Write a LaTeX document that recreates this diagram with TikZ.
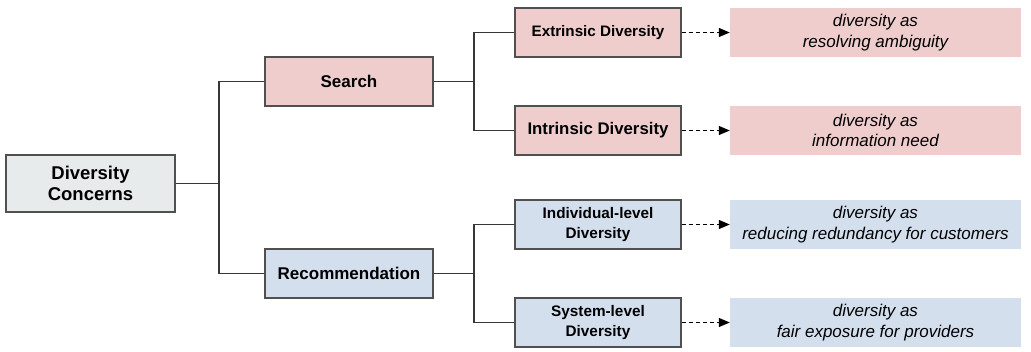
\documentclass[tikz,border=0pt]{standalone}
\usepackage{fontspec}
\setmainfont{Liberation Sans}
\usetikzlibrary{arrows.meta}
\definecolor{pinkf}{RGB}{239,205,204}
\definecolor{bluef}{RGB}{212,223,238}
\definecolor{greyf}{RGB}{232,235,236}
\definecolor{edge}{RGB}{80,80,80}
\definecolor{wire}{RGB}{55,55,55}
\begin{document}
\begin{tikzpicture}[x=1bp,y=-1bp,
  box/.style={draw=edge, line width=1.3bp, inner sep=0pt, align=center, text=black},
  rootbox/.style={box, fill=greyf, minimum width=169bp, minimum height=57bp,
    font=\fontsize{18.5bp}{21.7bp}\selectfont\bfseries},
  midbox/.style={box, minimum width=168bp, minimum height=49bp,
    font=\fontsize{17bp}{20bp}\selectfont\bfseries},
  leafbox/.style={box, minimum width=166bp, minimum height=49bp,
    font=\fontsize{15.3bp}{19.3bp}\selectfont\bfseries},
  descbox/.style={inner sep=0pt, align=center, text=black, minimum width=291bp, minimum height=49bp,
    font=\fontsize{17bp}{20.7bp}\selectfont\itshape},
  wireline/.style={draw=wire, line width=1.2bp},
  dasharrow/.style={draw=black, line width=1.2bp, dash pattern=on 4bp off 3bp,
    -{Triangle[length=11bp,width=9bp]}}
]
\useasboundingbox (0,0) rectangle (1031,351);
\fill[white] (0,0) rectangle (1031,351);

\node[rootbox] (root) at (90.5,183.5) {Diversity\\Concerns};
\node[midbox, fill=pinkf] (search) at (349,81.5) {Search};
\node[midbox, fill=bluef] (rec) at (349,273.5) {Recommendation};

\node[leafbox, fill=pinkf, font=\fontsize{15.2bp}{19bp}\selectfont\bfseries] (ext) at (598,32.5) {Extrinsic Diversity};
\node[leafbox, fill=pinkf, font=\fontsize{16.8bp}{20bp}\selectfont\bfseries] (int) at (598,130.5) {Intrinsic Diversity};
\node[leafbox, fill=bluef] (ind) at (598,224.5) {Individual-level\\Diversity};
\node[leafbox, fill=bluef] (sys) at (598,322.5) {System-level\\Diversity};

\node[descbox, fill=pinkf] (d1) at (875.5,32.5) {diversity as\\resolving ambiguity};
\node[descbox, fill=pinkf] (d2) at (875.5,130.5) {diversity as\\information need};
\node[descbox, fill=bluef] (d3) at (875.5,224.5) {diversity as\\reducing redundancy for customers};
\node[descbox, fill=bluef] (d4) at (875.5,322.5) {diversity as\\fair exposure for providers};

\coordinate (j0) at (219,183.5);
\coordinate (j1) at (474,81.5);
\coordinate (j2) at (474,273.5);

\draw[wireline] (root.east) -- (j0) |- (search.west);
\draw[wireline] (j0) |- (rec.west);
\draw[wireline] (search.east) -- (j1) |- (ext.west);
\draw[wireline] (j1) |- (int.west);
\draw[wireline] (rec.east) -- (j2) |- (ind.west);
\draw[wireline] (j2) |- (sys.west);

\draw[dasharrow] (ext.east) -- (d1.west);
\draw[dasharrow] (int.east) -- (d2.west);
\draw[dasharrow] (ind.east) -- (d3.west);
\draw[dasharrow] (sys.east) -- (d4.west);
\end{tikzpicture}
\end{document}
